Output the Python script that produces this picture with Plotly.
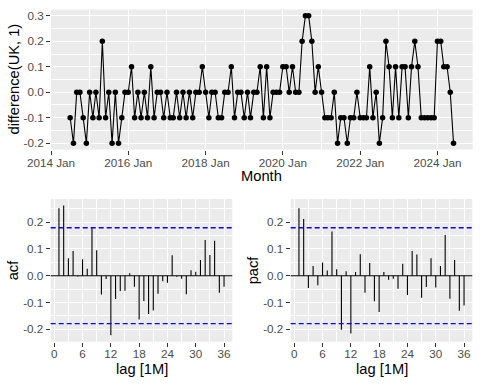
import numpy as np
import pandas as pd
import plotly.graph_objects as go

# ---------------- data ----------------
start_month = "2014-07-01"
uk_diff = [
    -0.1, -0.2, 0.0, 0.0, -0.1, -0.2, 0.0, -0.1, 0.0, -0.1, 0.2, -0.1, 0.0, -0.2, 0.0, -0.2, -0.1, 0.0, 0.0, 0.1,
    -0.1, 0.0, -0.1, 0.0, -0.1, 0.1, -0.1, 0.0, 0.0, -0.1, 0.0, -0.1, -0.1, 0.0, -0.1, 0.0, -0.1, 0.0, -0.1, 0.0,
    0.0, 0.1, 0.0, -0.1, 0.0, 0.0, -0.1, -0.1, 0.0, 0.0, 0.1, -0.1, 0.0, 0.0, -0.1, 0.0, -0.1, 0.0, 0.0, 0.1,
    -0.1, 0.1, -0.1, 0.0, 0.0, 0.0, 0.1, 0.1, 0.0, 0.1, 0.0, 0.0, 0.2, 0.3, 0.3, 0.2, 0.0, 0.1, 0.0, -0.1,
    -0.1, -0.1, 0.0, -0.2, -0.1, -0.1, -0.2, -0.1, -0.1, 0.0, -0.1, -0.1, -0.1, 0.1, -0.1, 0.0, -0.2, -0.1, 0.2, 0.1,
    -0.1, 0.1, -0.1, 0.1, 0.1, -0.1, 0.1, 0.2, 0.1, -0.1, -0.1, -0.1, -0.1, -0.1, 0.2, 0.2, 0.1, 0.1, 0.0, -0.2,
]
lags = list(range(1, 37))
acf_vals = [
    0.252, 0.262, 0.065, 0.092, -0.003, 0.061, 0.026, 0.181, 0.095, -0.070,
    -0.012, -0.222, -0.087, -0.057, -0.056, 0.009, -0.041, -0.163, -0.094, -0.143,
    -0.130, -0.067, -0.021, -0.026, 0.076, -0.004, -0.011, -0.069, 0.020, 0.015,
    0.059, 0.133, 0.077, 0.130, -0.064, -0.041,
]
pacf_vals = [
    0.252, 0.212, -0.046, 0.036, -0.036, 0.049, 0.019, 0.165, 0.024, -0.202,
    0.017, -0.216, 0.014, 0.080, -0.064, 0.047, -0.095, -0.135, 0.014, -0.015,
    -0.011, -0.049, 0.045, -0.072, 0.092, 0.079, -0.082, -0.042, 0.065, -0.044,
    0.036, 0.152, -0.086, 0.059, -0.131, -0.111,
]
top_y_ticks = [-0.2, -0.1, 0.0, 0.1, 0.2, 0.3]
cf_y_ticks = [-0.2, -0.1, 0.0, 0.1, 0.2]
lag_ticks = [0, 6, 12, 18, 24, 30, 36]

# ---------------- derived ----------------
months = pd.date_range(start_month, periods=len(uk_diff), freq="MS")
ci = 1.96 / np.sqrt(len(uk_diff))

W, H = 480, 384
FONT = "Liberation Sans, Arial, Helvetica, sans-serif"
BG = "#EBEBEB"
TICKC = "#4D4D4D"


def px_x(p):
    return p / W


def px_y(p):
    return 1 - p / H


def expand(lo, hi, f=0.05):
    d = hi - lo
    return [lo - f * d, hi + f * d]


t0, t1 = months[0], months[-1]
span = t1 - t0
xr_top = [(t0 - 0.05 * span).strftime("%Y-%m-%d %H:%M:%S"),
          (t1 + 0.05 * span).strftime("%Y-%m-%d %H:%M:%S")]
yr_top = expand(min(uk_diff), max(uk_diff))

cf_all = acf_vals + pacf_vals + [ci, -ci]
yr_cf = expand(min(cf_all), max(cf_all))
xr_lag = expand(min(lags), max(lags))


def seg_xy(xs, ys):
    sx, sy = [], []
    for a, b in zip(xs, ys):
        sx += [a, a, None]
        sy += [0, b, None]
    return sx, sy


fig = go.Figure()

fig.add_trace(go.Scatter(
    x=months, y=uk_diff, mode="lines+markers",
    line=dict(color="black", width=1.1),
    marker=dict(color="black", size=5.5),
    xaxis="x", yaxis="y", showlegend=False, hoverinfo="skip"))

ax, ay = seg_xy(lags, acf_vals)
fig.add_trace(go.Scatter(x=ax, y=ay, mode="lines", line=dict(color="black", width=1.1),
                         xaxis="x2", yaxis="y2", showlegend=False, hoverinfo="skip"))
px_, py_ = seg_xy(lags, pacf_vals)
fig.add_trace(go.Scatter(x=px_, y=py_, mode="lines", line=dict(color="black", width=1.1),
                         xaxis="x3", yaxis="y3", showlegend=False, hoverinfo="skip"))

shapes = []
for xa, ya in (("x2", "y2"), ("x3", "y3")):
    shapes.append(dict(type="line", xref=f"{xa} domain", yref=ya, x0=0, x1=1, y0=0, y1=0,
                       line=dict(color="black", width=1.1), layer="above"))
    for v in (ci, -ci):
        shapes.append(dict(type="line", xref=f"{xa} domain", yref=ya, x0=0, x1=1, y0=v, y1=v,
                           line=dict(color="#0000FF", width=1.4, dash="5px,3px"), layer="above"))

tick_common = dict(
    ticks="outside", ticklen=4, tickwidth=1.1, tickcolor="#333333",
    showline=False, zeroline=False, showgrid=True, gridcolor="white", gridwidth=1.1,
    automargin=False,
    tickfont=dict(family=FONT, size=11.7, color=TICKC),
)
minor_common = dict(showgrid=True, gridcolor="white", gridwidth=0.55, ticks="")

top_box = (51, 472.7, 9.5, 149.5)
acf_box = (50.7, 232.3, 199, 341.7)
pacf_box = (290.7, 472.3, 199, 341.7)


def dom(box):
    x0, x1, y0, y1 = box
    return [px_x(x0), px_x(x1)], [px_y(y1), px_y(y0)]


d_top = dom(top_box)
d_acf = dom(acf_box)
d_pacf = dom(pacf_box)

fig.update_layout(
    width=W, height=H,
    margin=dict(l=0, r=0, t=0, b=0, pad=0),
    paper_bgcolor="white", plot_bgcolor=BG,
    font=dict(family=FONT),
    shapes=shapes,
    xaxis=dict(domain=d_top[0], anchor="y", range=xr_top, type="date",
               tick0="2014-01-01", dtick="M24", tickformat="%Y %b",
               minor=dict(dtick="M12", tick0="2014-01-01", **minor_common),
               ticklabelstandoff=-2,
               **tick_common),
    yaxis=dict(domain=d_top[1], anchor="x", range=yr_top,
               tickvals=top_y_ticks, ticktext=[f"{v:.1f}" for v in top_y_ticks],
               minor=dict(dtick=0.05, tick0=0, **minor_common),
               **tick_common),
    xaxis2=dict(domain=d_acf[0], anchor="y2", range=xr_lag, tickvals=lag_ticks,
                ticktext=[str(v) for v in lag_ticks],
                minor=dict(dtick=3, tick0=0, **minor_common),
                ticklabelstandoff=-3,
                **tick_common),
    yaxis2=dict(domain=d_acf[1], anchor="x2", range=yr_cf,
                tickvals=cf_y_ticks, ticktext=[f"{v:.1f}" for v in cf_y_ticks],
                minor=dict(dtick=0.05, tick0=0, **minor_common),
                **tick_common),
    xaxis3=dict(domain=d_pacf[0], anchor="y3", range=xr_lag, tickvals=lag_ticks,
                ticktext=[str(v) for v in lag_ticks],
                minor=dict(dtick=3, tick0=0, **minor_common),
                ticklabelstandoff=-3,
                **tick_common),
    yaxis3=dict(domain=d_pacf[1], anchor="x3", range=yr_cf,
                tickvals=cf_y_ticks, ticktext=[f"{v:.1f}" for v in cf_y_ticks],
                minor=dict(dtick=0.05, tick0=0, **minor_common),
                **tick_common),
)

title_font = dict(family=FONT, size=14.7, color="black")
annos = [
    dict(text="difference(UK, 1)", x=px_x(13), y=px_y((top_box[2] + top_box[3]) / 2), textangle=-90),
    dict(text="Month", x=px_x((top_box[0] + top_box[1]) / 2), y=px_y(176)),
    dict(text="acf", x=px_x(13), y=px_y((acf_box[2] + acf_box[3]) / 2), textangle=-90),
    dict(text="pacf", x=px_x(253), y=px_y((pacf_box[2] + pacf_box[3]) / 2), textangle=-90),
    dict(text="lag [1M]", x=px_x((acf_box[0] + acf_box[1]) / 2), y=px_y(369)),
    dict(text="lag [1M]", x=px_x((pacf_box[0] + pacf_box[1]) / 2), y=px_y(369)),
]
for a in annos:
    fig.add_annotation(xref="paper", yref="paper", showarrow=False, xanchor="center", yanchor="middle",
                       font=title_font, **a)

fig.write_html(
    "out.html",
    config={"displayModeBar": False},
    post_script="document.body.style.margin='0';document.body.style.padding='0';",
)
